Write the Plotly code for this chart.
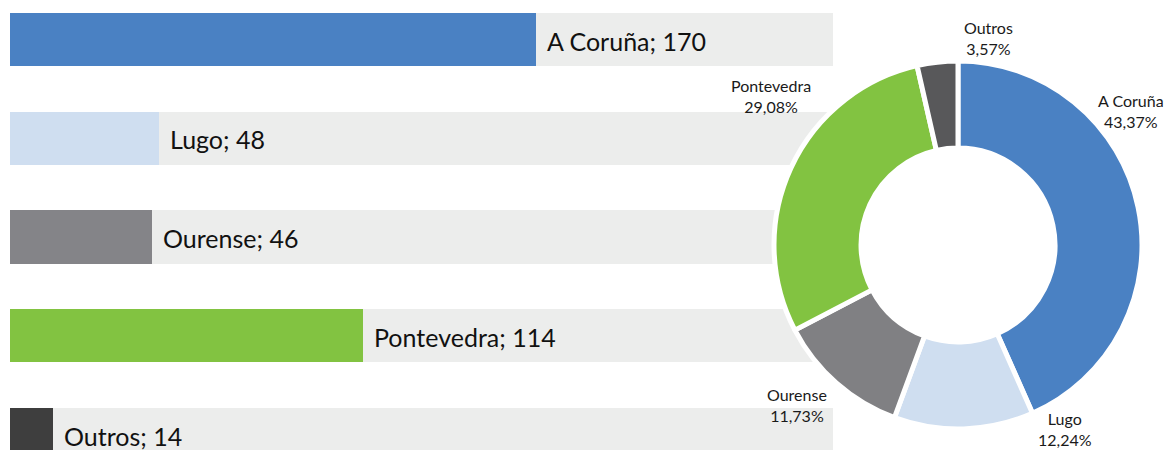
import plotly.graph_objects as go

# ---- data ----
categories = ["A Coruña", "Lugo", "Ourense", "Pontevedra", "Outros"]
values = [170, 48, 46, 114, 14]
colors = ["#4A81C3", "#CFDEF0", "#848488", "#82C341", "#3E3E3E"]
pie_colors = ["#4A81C3", "#CFDEF0", "#808083", "#82C341", "#58585A"]
track_value = 266

W, H = 1167, 450
FONT = "Lato"

total = sum(values)
pct_text = [("%.2f" % (v / total * 100)).replace(".", ",") + "%" for v in values]


def px_x(x):
    return x / W


def px_y(y):
    return 1 - y / H


fig = go.Figure()

# background tracks
fig.add_trace(go.Bar(
    y=categories, x=[track_value] * len(categories), orientation="h",
    marker=dict(color="#ECEDEC", line=dict(width=0)),
    width=0.537, hoverinfo="skip", showlegend=False,
))
# value bars
fig.add_trace(go.Bar(
    y=categories, x=values, orientation="h",
    marker=dict(color=colors, line=dict(width=0)),
    width=0.537, showlegend=False,
))

# bar labels
for c, v in zip(categories, values):
    fig.add_annotation(
        x=v, y=c, xref="x", yref="y", text=f"{c}; {v}",
        xanchor="left", yanchor="middle", xshift=9, yshift=-1, showarrow=False,
        font=dict(family=FONT, size=25, color="#111111"),
    )

# donut
cx, cy, r = 958, 245, 184
fig.add_trace(go.Pie(
    labels=categories, values=values, sort=False, direction="clockwise",
    rotation=0, hole=0.527,
    marker=dict(colors=pie_colors, line=dict(color="white", width=5)),
    textinfo="none", showlegend=False,
    domain=dict(x=[px_x(cx - r), px_x(cx + r)], y=[px_y(cy + r), px_y(cy - r)]),
))

# donut labels (label + percentage)
label_pos = {
    "A Coruña": (1131, 111),
    "Lugo": (1065, 429),
    "Ourense": (797, 405),
    "Pontevedra": (771, 96),
    "Outros": (988, 38),
}
for c, p in zip(categories, pct_text):
    lx, ly = label_pos[c]
    fig.add_annotation(
        x=px_x(lx), y=px_y(ly), xref="paper", yref="paper",
        text=f"{c}<br>{p}", showarrow=False, xanchor="center", yanchor="middle",
        font=dict(family=FONT, size=16, color="#1a1a1a"),
    )

# y range so category centres land at reference pixel rows 39.5 ... 434.5
span = 4 * H / (434.5 - 39.5)
y0 = -39.5 / H * span
fig.update_layout(
    width=W, height=H, margin=dict(l=0, r=0, t=0, b=0),
    paper_bgcolor="white", plot_bgcolor="white", barmode="overlay",
    xaxis=dict(domain=[px_x(10), px_x(833)], range=[0, track_value], visible=False, fixedrange=True),
    yaxis=dict(range=[y0 + span, y0], visible=False, fixedrange=True),
    bargap=0,
)

fig.write_html(
    "out.html",
    config={"displayModeBar": False},
    post_script="document.body.style.margin='0';document.body.style.overflow='hidden';",
)
